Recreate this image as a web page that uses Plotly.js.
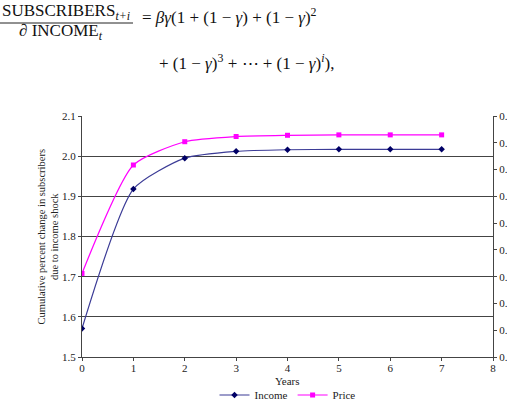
<!DOCTYPE html>
<html><head><meta charset="utf-8">
<script src="https://cdn.plot.ly/plotly-3.0.1.min.js"></script>
<style>html,body{margin:0;padding:0;background:#fff}#chart{width:507px;height:410px}</style>
</head><body><div id="chart"></div>
<script>
const years = [0, 1, 2, 3, 4, 5, 6, 7];
const incomeValues = [1.571, 1.918, 1.995, 2.012, 2.016, 2.017, 2.017, 2.017];
const priceValues = [1.708, 1.978, 2.036, 2.049, 2.052, 2.053, 2.053, 2.053];
const leftTicks = [1.5, 1.6, 1.7, 1.8, 1.9, 2.0, 2.1];
const leftTickText = ['1.5', '1.6', '1.7', '1.8', '1.9', '2.0', '2.1'];
const rightTicks = [0, 0.1, 0.2, 0.3, 0.4, 0.5, 0.6, 0.7, 0.8, 0.9];
const rightTickText = ['0.', '0.', '0.', '0.', '0.', '0.', '0.', '0.', '0.', '0.'];
const xTicks = [0, 1, 2, 3, 4, 5, 6, 7, 8];

const font = '"Times New Roman", "Liberation Serif", serif';
const traces = [
  {x: years, y: incomeValues, name: 'Income', type: 'scatter', mode: 'lines+markers',
   line: {color: '#3b3b96', width: 1.2, shape: 'spline', smoothing: 0.6},
   marker: {symbol: 'diamond', size: 5, color: '#000066'}},
  {x: years, y: priceValues, name: 'Price', type: 'scatter', mode: 'lines+markers',
   line: {color: '#ff00ff', width: 1.2, shape: 'spline', smoothing: 0.6},
   marker: {symbol: 'square', size: 5, color: '#ff00ff'}},
  {x: [0], y: [0], yaxis: 'y2', type: 'scatter', mode: 'markers', showlegend: false,
   marker: {opacity: 0}, hoverinfo: 'skip'}
];
const layout = {
  width: 507, height: 410,
  margin: {l: 82, r: 14, t: 116, b: 53},
  paper_bgcolor: '#fff', plot_bgcolor: '#fff',
  font: {family: font, size: 11, color: '#222'},
  showlegend: true,
  legend: {orientation: 'h', xref: 'paper', x: 0.5, xanchor: 'center', yref: 'container', y: 15/410, yanchor: 'middle',
           font: {family: font, size: 11, color: '#222'}, itemwidth: 30, tracegroupgap: 0},
  xaxis: {range: [0, 8], tickvals: xTicks, ticks: 'outside', ticklen: 3, tickcolor: '#444', automargin: false,
          ticklabelstandoff: -2,
          showline: true, linecolor: '#444', linewidth: 1, showgrid: false, zeroline: false,
          tickfont: {family: font, size: 11, color: '#222'}},
  yaxis: {range: [1.5, 2.1], tickvals: leftTicks, ticktext: leftTickText, ticks: 'outside', ticklen: 3, automargin: false,
          tickcolor: '#444', showline: true, linecolor: '#444', linewidth: 1,
          showgrid: true, gridcolor: '#444', gridwidth: 1, zeroline: false,
          tickfont: {family: font, size: 11, color: '#222'}},
  yaxis2: {overlaying: 'y', side: 'right', range: [0, 0.9], tickvals: rightTicks, ticktext: rightTickText, automargin: false,
           ticks: 'outside', ticklen: 3, tickcolor: '#444', showline: true, linecolor: '#444', linewidth: 1,
           showgrid: false, zeroline: false, tickfont: {family: font, size: 11, color: '#222'}},
  shapes: [
    {type: 'line', xref: 'paper', yref: 'paper', x0: -82/411, x1: 51/411, y0: (357-23)/241, y1: (357-23)/241,
     line: {color: '#222', width: 1}}
  ],
  annotations: [
    {xref: 'paper', yref: 'paper', x: 0.5, y: (357-381)/241, xanchor: 'center', yanchor: 'middle', showarrow: false,
     text: 'Years', font: {family: font, size: 11, color: '#222'}},
    {xref: 'paper', yref: 'paper', x: (48-82)/411, y: 0.5, xanchor: 'center', yanchor: 'middle', showarrow: false,
     textangle: -90, text: 'Cumulative percent change in subscribers<br>due to income shock',
     font: {family: font, size: 10.5, color: '#222'}},
    {xref: 'paper', yref: 'paper', x: -82/411, y: (357-12)/241, xanchor: 'left', yanchor: 'middle', showarrow: false,
     text: 'SUBSCRIBERS<sub><i>t+i</i></sub>', font: {family: font, size: 17, color: '#111'}},
    {xref: 'paper', yref: 'paper', x: -65/411, y: (357-32)/241, xanchor: 'left', yanchor: 'middle', showarrow: false,
     text: '∂ INCOME<sub><i>t</i></sub>', font: {family: font, size: 17, color: '#111'}},
    {xref: 'paper', yref: 'paper', x: 58/411, y: (357-16)/241, xanchor: 'left', yanchor: 'middle', showarrow: false,
     text: '= <i>βγ</i>(1 + (1 − <i>γ</i>) + (1 − <i>γ</i>)<sup>2</sup>', font: {family: font, size: 17, color: '#111'}},
    {xref: 'paper', yref: 'paper', x: 75/411, y: (357-62)/241, xanchor: 'left', yanchor: 'middle', showarrow: false,
     text: '+ (1 − <i>γ</i>)<sup>3</sup> + ⋯ + (1 − <i>γ</i>)<sup><i>i</i></sup>),', font: {family: font, size: 17, color: '#111'}}
  ]
};
Plotly.newPlot('chart', traces, layout, {displayModeBar: false, staticPlot: true});
</script></body></html>
